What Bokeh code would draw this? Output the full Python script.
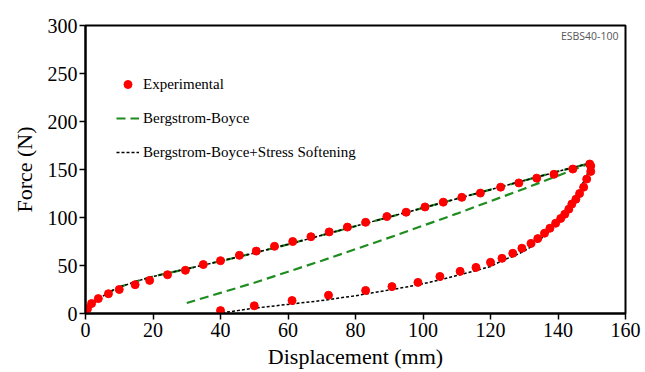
from bokeh.plotting import figure
from bokeh.models import Range1d, Legend, LegendItem, Label
from bokeh.embed import file_html
from bokeh.resources import INLINE

# Experimental data: loading branch
exp_load_x = [0, 0.6, 1.8, 3.8, 6.8, 10, 14.7, 19, 24.3, 29.6, 34.9, 40, 45.6, 50.6, 56, 61.4,
              66.8, 72.2, 77.6, 83, 89.3, 95, 100.6, 106, 111.5, 117, 123, 128.4, 133.7, 138.8,
              144.4, 149.4]
exp_load_y = [0, 5, 10.4, 15.5, 20.6, 25, 30, 34.5, 40.4, 45, 51, 55, 60.6, 65, 70, 75,
              80, 85, 90, 95, 101, 105.5, 111, 116, 121, 125.4, 131.6, 136, 141, 145,
              150.5, 155.7]
# Experimental data: unloading branch
exp_unload_x = [149.7, 149.7, 148.5, 147.6, 146.4, 145.3, 144.1, 143.2, 142, 140.8, 139.3, 137.6,
                136, 134, 132, 129.3, 126.6, 123.4, 120, 115.7, 111, 105, 98.5, 90.8, 83, 72,
                61.2, 50, 40]
exp_unload_y = [153.6, 148, 140, 131.6, 125, 119, 114, 108.7, 103.4, 99, 94, 88.8,
                83.6, 78, 73, 68, 62.7, 57.5, 53.3, 48, 43.9, 38.6, 32.4, 28, 24, 19,
                13.5, 8, 3]

# Model loading branch (shared by both models)
mod_load_x = [0, 1, 2, 4, 6, 8, 10, 13, 16, 20, 25, 30, 35, 40, 50, 60, 70, 80, 90, 100,
              110, 120, 130, 140, 150]
mod_load_y = [0, 6, 10, 15.5, 20, 24, 27.5, 31, 34.5, 38.5, 42.5, 46.5, 50.5, 54.5, 63, 72,
              81.5, 91, 100.5, 110, 119.5, 129, 138.5, 148, 157]

# Bergstrom-Boyce unloading
bb_unload_x = [150, 140, 130, 120, 110, 100, 90, 80, 70, 60, 50, 40, 30]
bb_unload_y = [157, 143.5, 130, 117, 104, 91.5, 79, 67, 55, 43.5, 32, 21.5, 11]

# Bergstrom-Boyce + Stress Softening unloading
ss_unload_x = [150, 149, 147.5, 146, 144, 142, 140, 138, 136, 134, 132, 130, 127, 124, 120,
               115, 110, 105, 100, 95, 90, 85, 80, 70, 60, 50, 45, 40]
ss_unload_y = [157, 148, 137, 127, 115, 105, 96, 88, 81, 75, 69.5, 65, 60, 56, 49,
               44, 39.5, 35, 31, 27.5, 24.5, 21.5, 18.5, 13.5, 9.5, 5.5, 3, 0.5]

x_ticks = [0, 20, 40, 60, 80, 100, 120, 140, 160]
y_ticks = [0, 50, 100, 150, 200, 250, 300]

SERIF_Q = "'Liberation Serif'"
SERIF = "Liberation Serif"

p = figure(width=645, height=372, x_range=Range1d(0, 160), y_range=Range1d(0, 300),
           output_backend="svg", toolbar_location=None,
           min_border_left=85, min_border_right=20, min_border_top=25, min_border_bottom=59)

p.xgrid.visible = False
p.ygrid.visible = False
p.outline_line_color = "black"
p.outline_line_width = 2
p.background_fill_color = "white"
p.border_fill_color = "white"

# green BB curves
g1 = p.line(mod_load_x, mod_load_y, line_color="#1e8c1e", line_width=2.2, line_dash="9 5")
g2 = p.line(bb_unload_x, bb_unload_y, line_color="#1e8c1e", line_width=2.2, line_dash="9 5")
# black BB+SS curves
k1 = p.line(mod_load_x, mod_load_y, line_color="black", line_width=1.5, line_dash="3 2")
k2 = p.line(ss_unload_x, ss_unload_y, line_color="black", line_width=1.5, line_dash="3 2")
# experimental
e1 = p.scatter(exp_load_x, exp_load_y, size=8, fill_color="#ff0000", line_color="#ff0000")
e2 = p.scatter(exp_unload_x, exp_unload_y, size=8, fill_color="#ff0000", line_color="#ff0000")

for ax in (p.xaxis[0], p.yaxis[0]):
    ax.axis_line_width = 2
    ax.axis_line_color = "black"
    ax.major_tick_line_width = 1.5
    ax.major_tick_line_color = "black"
    ax.major_tick_out = 6
    ax.major_tick_in = 0
    ax.minor_tick_line_color = None
    ax.major_label_text_font = SERIF_Q
    ax.major_label_text_font_size = "20px"
    ax.major_label_text_color = "black"
    ax.axis_label_text_font = SERIF
    ax.axis_label_text_font_size = "22px"
    ax.axis_label_text_font_style = "normal"
    ax.axis_label_text_color = "black"

p.xaxis.ticker = x_ticks
p.yaxis.ticker = y_ticks
p.xaxis.axis_label = "Displacement (mm)"
p.yaxis.axis_label = "Force (N)"
p.xaxis.major_label_standoff = 3
p.xaxis.axis_label_standoff = 4
p.yaxis.major_label_standoff = 2
p.yaxis.axis_label_standoff = 8

legend = Legend(items=[
    LegendItem(label="Experimental", renderers=[e1]),
    LegendItem(label="Bergstrom-Boyce", renderers=[g2]),
    LegendItem(label="Bergstrom-Boyce+Stress Softening", renderers=[k2]),
], location=(31, 151), padding=0, margin=0, spacing=14, label_height=20, glyph_height=20,
    glyph_width=23, label_standoff=4, border_line_color=None, background_fill_alpha=0,
    label_text_font=SERIF_Q, label_text_font_size="15px", label_text_color="black")
p.add_layout(legend)

p.add_layout(Label(x=157.9, y=289.5, text="ESBS40-100", text_align="right",
                   text_baseline="middle", text_font="Open Sans",
                   text_font_size="10.5px", text_color="#555555"))

open("out.html", "w").write(file_html(p, INLINE))
